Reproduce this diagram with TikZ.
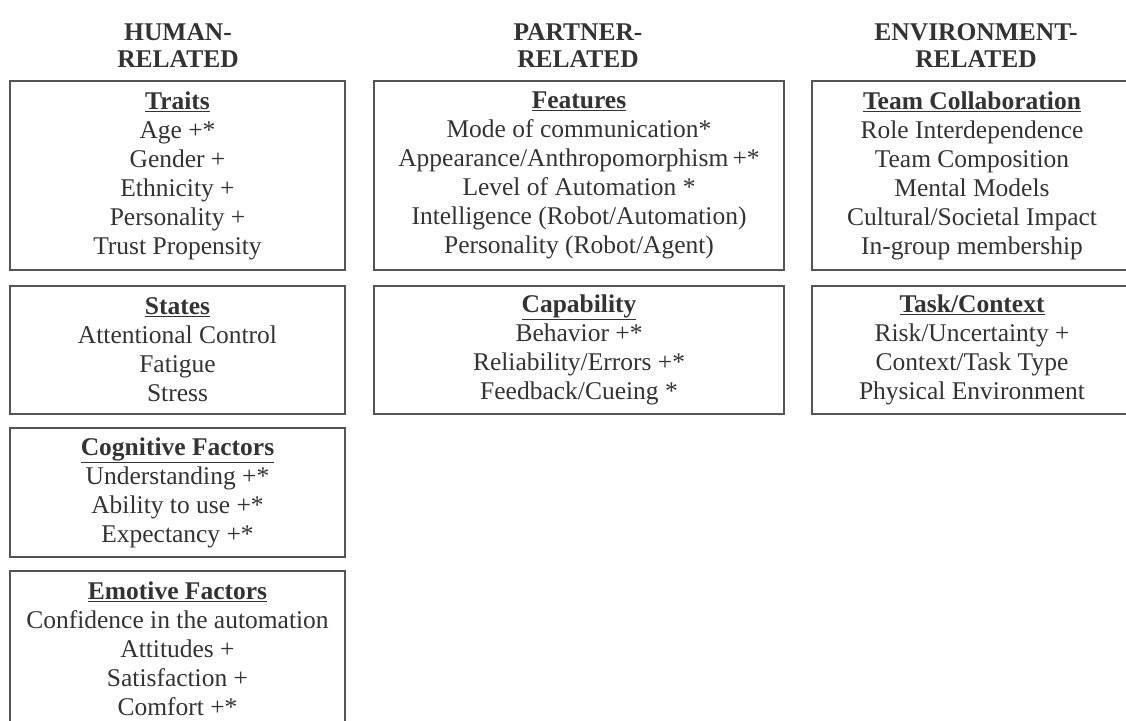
\documentclass[tikz,border=0pt]{standalone}
\usepackage{fontspec}
\setmainfont{Liberation Serif}
\usepackage{tikz}

\definecolor{inkgray}{HTML}{333333}
\definecolor{rulegray}{HTML}{555555}

\tikzset{
  colhead/.style={align=center, inner sep=0pt, text=inkgray,
    font=\bfseries\fontsize{25.5}{27}\selectfont},
  factbox/.style={draw=rulegray, line width=1.3pt, align=center, inner sep=0pt,
    text=inkgray, font=\fontsize{25.5}{29}\selectfont},
  humanbox/.style={factbox, minimum width=335pt},
  partnerbox/.style={factbox, minimum width=410pt},
  envbox/.style={factbox, minimum width=320pt},
}
\newcommand{\boxtitle}[1]{\underline{\textbf{#1}}}

\begin{document}
\begin{tikzpicture}[x=1pt,y=-1pt]

\useasboundingbox (0,0) rectangle (1126,720);

\node[colhead, anchor=south] (hhuman) at (178,68) {HUMAN-\\RELATED};
\node[colhead, anchor=south] (hpartner) at (578,68) {PARTNER-\\RELATED};
\node[colhead, anchor=south] (henv) at (976,68) {ENVIRONMENT-\\RELATED};

\node[humanbox, minimum height=189pt] (traits) at (177.5,175.5)
  {\boxtitle{Traits}\\Age +*\\Gender +\\Ethnicity +\\Personality +\\Trust Propensity};
\node[humanbox, minimum height=128pt] (states) at (177.5,350)
  {\boxtitle{States}\\Attentional Control\\Fatigue\\Stress};
\node[humanbox, minimum height=129pt] (cogn) at (177.5,492.5)
  {\boxtitle{Cognitive Factors}\\Understanding +*\\Ability to use +*\\Expectancy +*};
\node[humanbox, minimum height=156pt] (emot) at (177.5,649)
  {\boxtitle{Emotive Factors}\\Confidence in the automation\\Attitudes +\\Satisfaction +\\Comfort +*};

\node[partnerbox, minimum height=189pt] (feat) at (579,175.5)
  {\boxtitle{Features}\\Mode of communication*\\Appearance/Anthropomorphism\,+*\\Level of Automation *\\Intelligence (Robot/Automation)\\Personality (Robot/Agent)};
\node[partnerbox, minimum height=128pt] (capab) at (579,350)
  {\boxtitle{Capability}\\Behavior +*\\Reliability/Errors +*\\Feedback/Cueing *};

\node[envbox, minimum height=189pt] (team) at (972,175.5)
  {\boxtitle{Team Collaboration}\\Role Interdependence\\Team Composition\\Mental Models\\Cultural/Societal Impact\\In-group membership};
\node[envbox, minimum height=128pt] (task) at (972,350)
  {\boxtitle{Task/Context}\\Risk/Uncertainty +\\Context/Task Type\\Physical Environment};

\end{tikzpicture}
\end{document}
